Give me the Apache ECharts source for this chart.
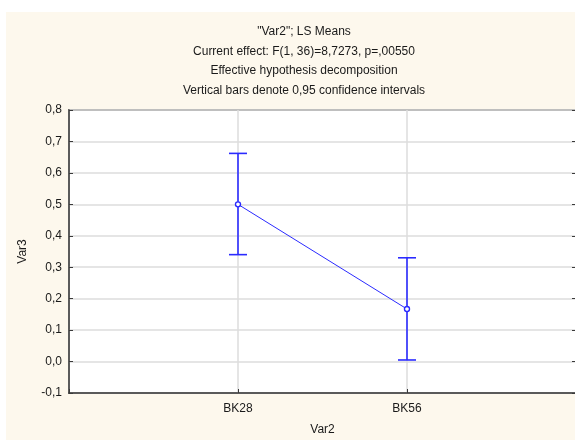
<!DOCTYPE html>
<html>
<head>
<meta charset="utf-8">
<script src="https://cdn.jsdelivr.net/npm/echarts@6/dist/echarts.min.js"></script>
<style>
  html, body { margin: 0; padding: 0; background: #ffffff; }
  #chart { width: 575px; height: 440px; }
</style>
</head>
<body>
<div id="chart"></div>
<script>
// LS means of Var3 for each level of Var2, with 0.95 confidence limits
const categories = ['BK28', 'BK56'];
const means = [0.500, 0.167];
const lowerCI = [0.340, 0.005];
const upperCI = [0.662, 0.330];

const yTicks = { min: -0.1, max: 0.8, step: 0.1 };

const titleLines = [
  '"Var2"; LS Means',
  'Current effect: F(1, 36)=8,7273, p=,00550',
  'Effective hypothesis decomposition',
  'Vertical bars denote 0,95 confidence intervals'
];

// one empty slot on each side so the two levels sit at 1/3 and 2/3 of the width
const axisCats = [''].concat(categories, ['']);
const meanData = [null].concat(means, [null]);
const ciData = categories.map((c, i) => [i + 1, lowerCI[i], upperCI[i]]);

const blue = '#2b2bff';
const axisColor = '#3a3a3a';
const gridColor = '#dcdcdc';
const font = 'Liberation Sans, Arial, sans-serif';
const fmt = v => (Math.round(v * 10) / 10).toFixed(1).replace('.', ',');

const chart = echarts.init(document.getElementById('chart'), null, { renderer: 'canvas' });

chart.setOption({
  backgroundColor: '#ffffff',
  animation: false,
  graphic: [{
    type: 'rect',
    z: -10,
    silent: true,
    shape: { x: 6, y: 12, width: 575, height: 440 },
    style: { fill: '#fdf8ed' }
  }],
  title: {
    text: titleLines.join('\n'),
    left: 299,
    top: 17,
    textAlign: 'center',
    textStyle: {
      fontFamily: font,
      fontSize: 12,
      fontWeight: 'normal',
      color: '#1a1a1a',
      lineHeight: 19.5
    }
  },
  grid: {
    left: 69,
    top: 110,
    width: 507,
    height: 283,
    outerBoundsMode: 'none',
    containLabel: false,
    show: true,
    backgroundColor: '#ffffff',
    borderColor: axisColor,
    borderWidth: 1.5
  },
  xAxis: {
    type: 'category',
    data: axisCats,
    boundaryGap: false,
    name: 'Var2',
    nameLocation: 'middle',
    nameGap: 31,
    nameTextStyle: { fontFamily: font, fontSize: 12, color: '#1a1a1a' },
    axisLine: { show: true, onZero: false, lineStyle: { color: axisColor, width: 1.5 } },
    axisTick: { show: true, inside: true, length: 4, lineStyle: { color: axisColor } },
    axisLabel: { fontFamily: font, fontSize: 12, color: '#1a1a1a', margin: 10 },
    splitLine: { show: true, lineStyle: { color: gridColor, width: 1.5 } }
  },
  yAxis: [{
    type: 'value',
    min: yTicks.min,
    max: yTicks.max,
    interval: yTicks.step,
    name: 'Var3',
    nameLocation: 'middle',
    nameGap: 40,
    nameTextStyle: { fontFamily: font, fontSize: 12, color: '#1a1a1a' },
    axisLine: { show: true, onZero: false, lineStyle: { color: axisColor, width: 1.5 } },
    axisTick: { show: true, inside: true, length: 4, lineStyle: { color: axisColor } },
    axisLabel: { fontFamily: font, fontSize: 12, color: '#1a1a1a', margin: 7, formatter: fmt },
    splitLine: { show: true, lineStyle: { color: gridColor, width: 1.5 } }
  }, {
    type: 'value',
    position: 'right',
    min: yTicks.min,
    max: yTicks.max,
    interval: yTicks.step,
    axisLine: { show: true, onZero: false, lineStyle: { color: axisColor, width: 1.5 } },
    axisTick: { show: true, inside: true, length: 4, lineStyle: { color: axisColor } },
    axisLabel: { show: false },
    splitLine: { show: false }
  }],
  series: [{
    type: 'custom',
    name: 'CI',
    yAxisIndex: 0,
    data: ciData,
    z: 3,
    renderItem: function (params, api) {
      const x = api.value(0);
      const lo = api.coord([x, api.value(1)]);
      const hi = api.coord([x, api.value(2)]);
      const half = 9;
      const style = { stroke: blue, lineWidth: 1.6, fill: null };
      return {
        type: 'group',
        children: [
          { type: 'line', shape: { x1: lo[0], y1: lo[1], x2: hi[0], y2: hi[1] }, style: style },
          { type: 'line', shape: { x1: hi[0] - half, y1: hi[1], x2: hi[0] + half, y2: hi[1] }, style: style },
          { type: 'line', shape: { x1: lo[0] - half, y1: lo[1], x2: lo[0] + half, y2: lo[1] }, style: style }
        ]
      };
    }
  }, {
    type: 'line',
    name: 'Var3',
    yAxisIndex: 0,
    data: meanData,
    connectNulls: false,
    z: 4,
    symbol: 'circle',
    symbolSize: 5,
    showSymbol: true,
    itemStyle: { color: '#ffffff', borderColor: blue, borderWidth: 1.4 },
    lineStyle: { color: blue, width: 1 }
  }]
});
</script>
</body>
</html>
